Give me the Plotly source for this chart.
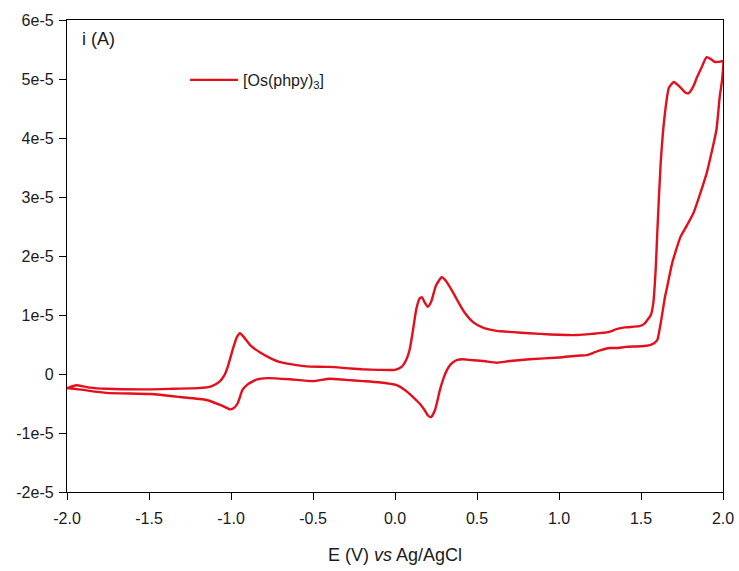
import plotly.graph_objects as go

# Cyclic voltammogram of [Os(phpy)3]: forward (anodic) sweep then reverse sweep
potential_fwd = [
    -2.00, -1.97, -1.94, -1.90, -1.86, -1.76, -1.50, -1.35, -1.20, -1.12,
    -1.07, -1.04, -1.02, -0.99, -0.965, -0.945, -0.92, -0.88, -0.82, -0.76,
    -0.70, -0.60, -0.54, -0.40, -0.30, -0.20, -0.10, 0.00, 0.04, 0.07,
    0.09, 0.11, 0.13, 0.15, 0.165, 0.18, 0.20, 0.22, 0.25, 0.285,
    0.31, 0.35, 0.38, 0.42, 0.476, 0.54, 0.62, 0.72, 0.82, 0.95,
    1.05, 1.11, 1.20, 1.30, 1.35, 1.40, 1.49, 1.52, 1.54, 1.56,
    1.575, 1.59, 1.60, 1.62, 1.646, 1.67, 1.70, 1.74, 1.77, 1.79,
    1.82, 1.84, 1.87, 1.90, 1.93, 1.95, 1.97, 1.99, 2.00,
]
current_fwd = [
    -0.24e-5, -0.21e-5, -0.19e-5, -0.21e-5, -0.23e-5, -0.25e-5, -0.26e-5, -0.25e-5, -0.24e-5, -0.21e-5,
    -0.13e-5, -0.02e-5, 0.12e-5, 0.41e-5, 0.62e-5, 0.69e-5, 0.62e-5, 0.48e-5, 0.36e-5, 0.27e-5,
    0.20e-5, 0.15e-5, 0.13e-5, 0.12e-5, 0.10e-5, 0.08e-5, 0.07e-5, 0.07e-5, 0.12e-5, 0.25e-5,
    0.42e-5, 0.75e-5, 1.10e-5, 1.28e-5, 1.30e-5, 1.22e-5, 1.14e-5, 1.22e-5, 1.50e-5, 1.64e-5,
    1.58e-5, 1.40e-5, 1.25e-5, 1.06e-5, 0.88e-5, 0.78e-5, 0.73e-5, 0.71e-5, 0.69e-5, 0.67e-5,
    0.66e-5, 0.66e-5, 0.68e-5, 0.71e-5, 0.76e-5, 0.79e-5, 0.81e-5, 0.85e-5, 0.92e-5, 1.00e-5,
    1.20e-5, 1.80e-5, 2.44e-5, 3.58e-5, 4.42e-5, 4.85e-5, 4.95e-5, 4.86e-5, 4.77e-5, 4.76e-5,
    4.88e-5, 5.02e-5, 5.20e-5, 5.37e-5, 5.33e-5, 5.29e-5, 5.29e-5, 5.30e-5, 5.30e-5,
]
potential_rev = [
    2.00, 1.995, 1.98, 1.96, 1.93, 1.90, 1.86, 1.82, 1.78, 1.74,
    1.69, 1.665, 1.646, 1.62, 1.60, 1.58, 1.555, 1.50, 1.41, 1.35,
    1.31, 1.25, 1.21, 1.17, 1.11, 1.00, 0.82, 0.70, 0.62, 0.54,
    0.45, 0.415, 0.38, 0.354, 0.335, 0.317, 0.295, 0.274, 0.244, 0.22,
    0.20, 0.18, 0.15, 0.11, 0.06, 0.01, -0.10, -0.195, -0.30, -0.40,
    -0.50, -0.64, -0.78, -0.84, -0.87, -0.90, -0.93, -0.96, -0.985, -1.006,
    -1.03, -1.07, -1.15, -1.31, -1.49, -1.76, -1.90, -1.96, -2.00,
]
current_rev = [
    5.30e-5, 5.00e-5, 4.70e-5, 4.14e-5, 3.75e-5, 3.40e-5, 3.05e-5, 2.73e-5, 2.52e-5, 2.32e-5,
    1.88e-5, 1.55e-5, 1.30e-5, 0.86e-5, 0.58e-5, 0.52e-5, 0.49e-5, 0.47e-5, 0.46e-5, 0.44e-5,
    0.44e-5, 0.40e-5, 0.36e-5, 0.32e-5, 0.31e-5, 0.28e-5, 0.25e-5, 0.22e-5, 0.19e-5, 0.22e-5,
    0.24e-5, 0.25e-5, 0.24e-5, 0.20e-5, 0.15e-5, 0.07e-5, -0.08e-5, -0.27e-5, -0.61e-5, -0.73e-5,
    -0.70e-5, -0.61e-5, -0.50e-5, -0.39e-5, -0.27e-5, -0.19e-5, -0.14e-5, -0.12e-5, -0.10e-5, -0.08e-5,
    -0.12e-5, -0.09e-5, -0.07e-5, -0.09e-5, -0.13e-5, -0.18e-5, -0.27e-5, -0.50e-5, -0.58e-5, -0.60e-5,
    -0.57e-5, -0.52e-5, -0.44e-5, -0.39e-5, -0.34e-5, -0.32e-5, -0.27e-5, -0.25e-5, -0.24e-5,
]

x_ticks = [-2.0, -1.5, -1.0, -0.5, 0.0, 0.5, 1.0, 1.5, 2.0]
x_tick_labels = ["-2.0", "-1.5", "-1.0", "-0.5", "0.0", "0.5", "1.0", "1.5", "2.0"]
y_ticks = [-2e-5, -1e-5, 0, 1e-5, 2e-5, 3e-5, 4e-5, 5e-5, 6e-5]
y_tick_labels = ["-2e-5", "-1e-5", "0", "1e-5", "2e-5", "3e-5", "4e-5", "5e-5", "6e-5"]

RED = "#e3101c"
INK = "#1a1a1a"
FONT = "Liberation Sans, Arial, sans-serif"

fig = go.Figure()
fig.add_trace(go.Scatter(
    x=potential_fwd + potential_rev[1:],
    y=current_fwd + current_rev[1:],
    mode="lines",
    line=dict(color=RED, width=2.4, shape="spline", smoothing=0.5),
    name="[Os(phpy)<sub>3</sub>]",
))

axis_common = dict(
    showline=True, linecolor="black", linewidth=1.3, mirror=True,
    ticks="outside", ticklen=7, tickwidth=1.2, tickcolor="black",
    showgrid=False, zeroline=False, automargin=False,
    tickfont=dict(family=FONT, size=16, color=INK),
)

fig.update_layout(
    template="none",
    width=739, height=571,
    margin=dict(l=67, r=16, t=20, b=79, autoexpand=False),
    paper_bgcolor="white", plot_bgcolor="white",
    font=dict(family=FONT, color=INK),
    xaxis=dict(
        range=[-2.0, 2.0], tickvals=x_ticks, ticktext=x_tick_labels,
        title=dict(text="E (V) <i>vs</i> Ag/AgCl", font=dict(family=FONT, size=18, color=INK), standoff=22),
        ticklabelstandoff=5,
        **axis_common,
    ),
    yaxis=dict(
        range=[-2e-5, 6e-5], tickvals=y_ticks, ticktext=y_tick_labels,
        ticklabelstandoff=2,
        **axis_common,
    ),
    showlegend=True,
    legend=dict(
        x=0.18, y=0.873, xanchor="left", yanchor="middle",
        bgcolor="rgba(0,0,0,0)", borderwidth=0, itemwidth=48,
        font=dict(family=FONT, size=16, color=INK),
    ),
    annotations=[dict(
        text="i (A)", xref="paper", yref="paper", x=0.02, y=0.985,
        xanchor="left", yanchor="top", showarrow=False,
        font=dict(family=FONT, size=18, color=INK),
    )],
)

fig.write_html("out.html")
